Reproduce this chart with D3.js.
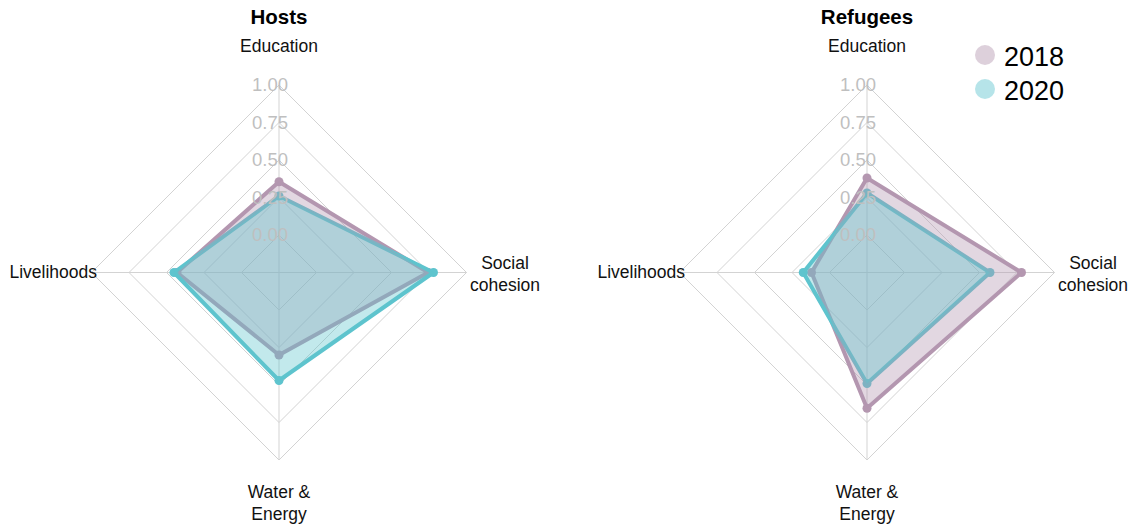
<!DOCTYPE html>
<meta charset="utf-8">
<script src="https://d3js.org/d3.v7.min.js"></script>
<style>
  body { margin: 0; background: #fff; }
  text { font-family: "Liberation Sans", Arial, sans-serif; }
</style>
<div id="chart"></div>
<script>

// axes, clockwise from the top
var axisNames = ["Education", "Social cohesion", "Water & Energy", "Livelihoods"];
var axisLines = [["Education"], ["Social", "cohesion"], ["Water &", "Energy"], ["Livelihoods"]];
var years = ["2018", "2020"];
var panels = ["Hosts", "Refugees"];

// values
var hosts2018 = [0.355, 0.745, 0.30, 0.43];
var hosts2020 = [0.26, 0.78, 0.47, 0.45];
var refugees2018 = [0.38, 0.78, 0.655, 0.12];
var refugees2020 = [0.28, 0.57, 0.49, 0.175];

var gridValues = [0, 0.25, 0.5, 0.75, 1];
var gridLabels = ["0.00", "0.25", "0.50", "0.75", "1.00"];

var colors = {"2018": "#b497b0", "2020": "#5ec4ce"};

var W = 1132, H = 524;
var centers = [279, 867], cy = 272.5;

var svg = d3.select("#chart").append("svg")
    .attr("width", W).attr("height", H);

// radius: 0 sits on an inner offset like ggradar does
var r = d3.scaleLinear().domain([0, 1]).range([37.5, 187.5]);
var angle = d3.scalePoint().domain(axisNames).range([0, 2 * Math.PI * 3 / 4]);

function pt(name, v) {
  var a = angle(name);
  return [Math.sin(a) * r(v), -Math.cos(a) * r(v)];
}

var data = {
  "Hosts": {"2018": hosts2018, "2020": hosts2020},
  "Refugees": {"2018": refugees2018, "2020": refugees2020}
};

panels.forEach(function(panel, pi) {
  var g = svg.append("g")
      .attr("transform", "translate(" + centers[pi] + "," + cy + ")");

  // grid diamonds
  g.selectAll(".grid")
    .data(gridValues)
    .enter().append("path")
      .attr("d", function(v) {
        return d3.line()(axisNames.map(function(n) { return pt(n, v); })) + "Z";
      })
      .attr("fill", "none")
      .attr("stroke", "#d3d3d3")
      .attr("stroke-width", 1);

  // axis spokes
  g.selectAll(".spoke")
    .data(axisNames)
    .enter().append("line")
      .attr("x1", 0).attr("y1", 0)
      .attr("x2", function(n) { return pt(n, 1)[0]; })
      .attr("y2", function(n) { return pt(n, 1)[1]; })
      .attr("stroke", "#d3d3d3")
      .attr("stroke-width", 1);

  // lines and points first, filled polygons on top
  years.forEach(function(yr) {
    var vals = data[panel][yr];
    var pts = axisNames.map(function(n, i) { return pt(n, vals[i]); });
    g.append("path")
      .attr("d", d3.line()(pts) + "Z")
      .attr("fill", "none")
      .attr("stroke", colors[yr])
      .attr("stroke-width", 4)
      .attr("stroke-linejoin", "round");
    g.selectAll(".pt" + yr)
      .data(pts)
      .enter().append("circle")
        .attr("cx", function(d) { return d[0]; })
        .attr("cy", function(d) { return d[1]; })
        .attr("r", 4.5)
        .attr("fill", colors[yr]);
  });
  years.forEach(function(yr) {
    var vals = data[panel][yr];
    var pts = axisNames.map(function(n, i) { return pt(n, vals[i]); });
    g.append("path")
      .attr("d", d3.line()(pts) + "Z")
      .attr("fill", colors[yr])
      .attr("fill-opacity", 0.38)
      .attr("stroke", "none");
  });

  // grid value labels along the top spoke
  g.selectAll(".glab")
    .data(gridValues)
    .enter().append("text")
      .attr("x", -9)
      .attr("y", function(v) { return -r(v); })
      .attr("dy", "0.35em")
      .attr("text-anchor", "middle")
      .attr("font-size", 18.5)
      .attr("fill", "#bfbfbf")
      .text(function(v, i) { return gridLabels[i]; });

  // axis labels
  var lab = g.append("g").attr("font-size", 17.5).attr("fill", "#111");
  lab.append("text").attr("x", 0).attr("y", -220.5)
    .attr("text-anchor", "middle").text(axisLines[0][0]);
  lab.append("text").attr("x", 226).attr("y", -4)
    .attr("text-anchor", "middle").text(axisLines[1][0]);
  lab.append("text").attr("x", 226).attr("y", 18)
    .attr("text-anchor", "middle").text(axisLines[1][1]);
  lab.append("text").attr("x", 0).attr("y", 225)
    .attr("text-anchor", "middle").text(axisLines[2][0]);
  lab.append("text").attr("x", 0).attr("y", 247)
    .attr("text-anchor", "middle").text(axisLines[2][1]);
  lab.append("text").attr("x", -182).attr("y", 5)
    .attr("text-anchor", "end").text(axisLines[3][0]);

  // panel title
  g.append("text")
    .attr("x", 0).attr("y", 24 - cy)
    .attr("text-anchor", "middle")
    .attr("font-size", 20.5)
    .attr("font-weight", "bold")
    .attr("fill", "#000")
    .text(panel);
});

// legend
var legend = svg.append("g").attr("transform", "translate(985,55)");
legend.selectAll("circle")
  .data(years)
  .enter().append("circle")
    .attr("cx", 0)
    .attr("cy", function(d, i) { return i * 34; })
    .attr("r", 10)
    .attr("fill", function(d) { return colors[d]; })
    .attr("fill-opacity", 0.45);
legend.selectAll("text")
  .data(years)
  .enter().append("text")
    .attr("x", 19)
    .attr("y", function(d, i) { return i * 34 + 11; })
    .attr("font-size", 27)
    .attr("fill", "#000")
    .text(function(d) { return d; });

</script>
